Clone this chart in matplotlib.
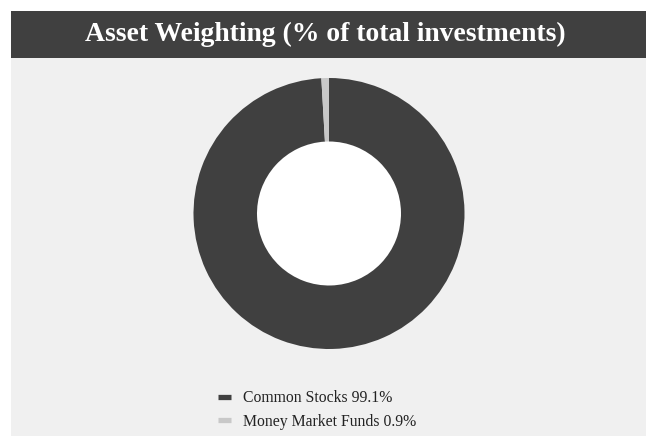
import matplotlib
matplotlib.use("Agg")
import matplotlib.pyplot as plt
from matplotlib.patches import Rectangle
from matplotlib.lines import Line2D

categories = ["Common Stocks", "Money Market Funds"]
values = [99.1, 0.9]
colors = ["#404040", "#c8c8c8"]
title = "Asset Weighting (% of total investments)"

W, H = 646, 436
fig = plt.figure(figsize=(W / 100, H / 100), dpi=100)
fig.patch.set_facecolor("white")

# background panel
fig.patches.append(Rectangle((11 / W, 0), (W - 11) / W, (H - 58) / H,
                             transform=fig.transFigure, facecolor="#f0f0f0",
                             edgecolor="none", zorder=-5))
# title bar
fig.patches.append(Rectangle((11 / W, (H - 58) / H), (W - 11) / W, 47 / H,
                             transform=fig.transFigure, facecolor="#404040",
                             edgecolor="none", zorder=-5))
fig.text(325 / W, (H - 34.5) / H, title, color="white",
         fontsize=19.9, fontweight="bold", family="Liberation Serif",
         ha="center", va="center")

cx, cy, r = 329, 213.5, 135.5
ax = fig.add_axes([(cx - r) / W, (H - cy - r) / H, 2 * r / W, 2 * r / H])
ax.set_zorder(2)
ax.set_facecolor("none")
wedges, _ = ax.pie(values, colors=colors, startangle=90, counterclock=False,
                   radius=1.0, wedgeprops=dict(width=1 - 72 / 135.5, edgecolor="none"))
ax.add_patch(plt.Circle((0, 0), 72 / 135.5, color="white", zorder=0))
ax.set_xlim(-1, 1)
ax.set_ylim(-1, 1)
ax.set_aspect("equal")
ax.axis("off")

handles = [Line2D([0], [0], color=c, lw=3.8, solid_capstyle="butt") for c in colors]
labels = [f"{n} {v}%" for n, v in zip(categories, values)]
leg = fig.legend(handles, labels, loc="upper left",
                 bbox_to_anchor=(218 / W, (H - 390) / H),
                 frameon=False, prop=dict(family="Liberation Serif", size=11.3),
                 handlelength=0.85, handletextpad=0.75, labelspacing=0.48,
                 borderpad=0, borderaxespad=0)
leg.set_zorder(3)
for t in leg.get_texts():
    t.set_color("#222222")

fig.savefig("out.png", dpi=100)
